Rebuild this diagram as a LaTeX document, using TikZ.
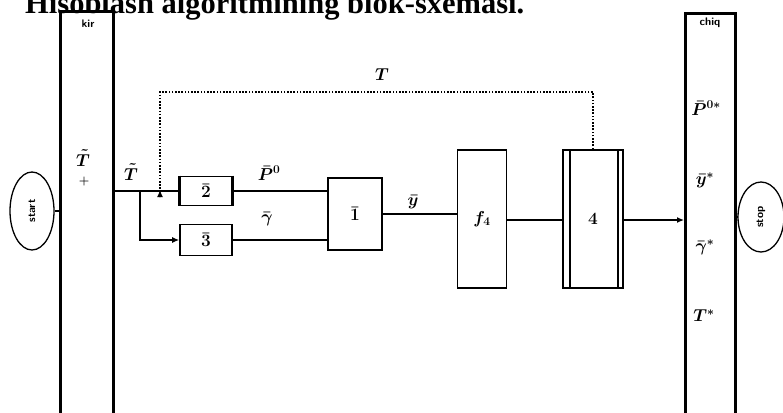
\documentclass[tikz,border=0pt]{standalone}
\usepackage{fontspec}
\usetikzlibrary{shapes.geometric,arrows.meta}
\newfontfamily\titlefont{Liberation Serif}
\begin{document}
\begin{tikzpicture}[x=1pt,y=-1pt,
  barbox/.style={draw, line width=2.6pt, minimum width=53pt, minimum height=430pt, anchor=north west, inner sep=0},
  blk/.style={draw, line width=1.6pt, inner sep=0, font=\fontsize{17.28}{19}\selectfont\boldmath},
  oval/.style={draw, ellipse, line width=1.3pt, inner sep=0, font=\sffamily\bfseries\fontsize{11}{12}\selectfont},
  wire/.style={line width=1.3pt},
  tip/.style={-{Latex[length=7pt,width=6pt]}},
  fbline/.style={line width=1.8pt, dash pattern=on 1.6pt off 1.6pt},
  lbl/.style={font=\fontsize{17.28}{19}\selectfont\boldmath, inner sep=0},
  bartxt/.style={font=\sffamily\bfseries\fontsize{11}{12}\selectfont, inner sep=0}
]
\useasboundingbox (0,0) rectangle (783,412);
% title (cut off at the top edge)
\node[anchor=base west, inner sep=0, font=\titlefont\bfseries\fontsize{30.5}{32}\selectfont] (title) at (25,14) {Hisoblash algoritmining blok-sxemasi.};
% bars
\node[barbox] (kir) at (59,10) {};
\node[barbox, minimum width=50pt] (chiq) at (684,12) {};
\node[bartxt] (kirt) at (88,24) {kir};
\node[bartxt] (chiqt) at (710,23) {chiq};
\node[lbl] (tin) at (83,158) {$\tilde{T}$};
\node[lbl, font=\fontsize{12}{14}\selectfont\boldmath] (plus) at (84,181) {$+$};
\node[lbl] (p0s) at (706,108) {$\bar{P}^{0*}$};
\node[lbl] (ys) at (705,180) {$\bar{y}^{*}$};
\node[lbl] (gs) at (705,247) {$\bar{\gamma}^{*}$};
\node[lbl] (ts) at (704,316) {$T^{*}$};
% ovals
\node[oval, minimum width=44pt, minimum height=78pt] (start) at (32,211) {\rotatebox{90}{start}};
\node[oval, minimum width=46pt, minimum height=70pt] (stop) at (761,217) {\rotatebox{90}{stop}};
\draw[wire] (start.east) -- (kir.west |- start.east);
\draw[wire] (stop.west) -- (chiq.east |- stop.west);
% blocks
\node[blk, minimum width=52pt, minimum height=29pt] (b2) at (206,191) {$\bar{2}$};
\node[blk, minimum width=52pt, minimum height=31pt] (b3) at (206,240) {$\bar{3}$};
\node[blk, minimum width=54pt, minimum height=72pt] (b1) at (355,214) {$\bar{1}$};
\node[blk, minimum width=49pt, minimum height=138pt] (f) at (482,219) {$f_4$};
\node[blk, minimum width=60pt, minimum height=138pt] (b4) at (593,219) {$4$};
\draw[line width=1.6pt] ([xshift=8pt]b4.north west) -- ([xshift=8pt]b4.south west);
\draw[line width=1.6pt] ([xshift=-6pt]b4.north east) -- ([xshift=-6pt]b4.south east);
\draw[line width=2.6pt] (b2.north west) -- (b2.south west);
\draw[line width=2.6pt] (b2.north east) -- (b2.south east);
% connectors
\coordinate (br) at (140,191);
\coordinate (fb) at (160,190);
\coordinate (fbtop) at (160,92);
\draw[wire] (kir.east |- b2.west) -- (b2.west);
\draw[wire, tip] (br) |- (b3.west);
\draw[wire] (b2.east) -- (b1.west |- b2.east);
\draw[wire] (b3.east) -- (b1.west |- b3.east);
\draw[wire] (b1.east) -- (f.west |- b1.east);
\draw[wire] (f.east |- 0,220) -- (b4.west |- 0,220);
\draw[wire, tip] (b4.east |- 0,220) -- (chiq.west |- 0,220);
\draw[fbline] (b4.north) |- (fbtop) -- ([yshift=-7pt]fb);
\draw[tip, line width=1.2pt] ([yshift=-7pt]fb) -- (fb);
% connector labels
\node[lbl] (tl) at (131,172) {$\tilde{T}$};
\node[lbl] (p0) at (269,173) {$\bar{P}^{0}$};
\node[lbl] (gl) at (267,219) {$\bar{\gamma}$};
\node[lbl] (yl) at (413,202) {$\bar{y}$};
\node[lbl] (tfb) at (382,75) {$T$};
\end{tikzpicture}
\end{document}
